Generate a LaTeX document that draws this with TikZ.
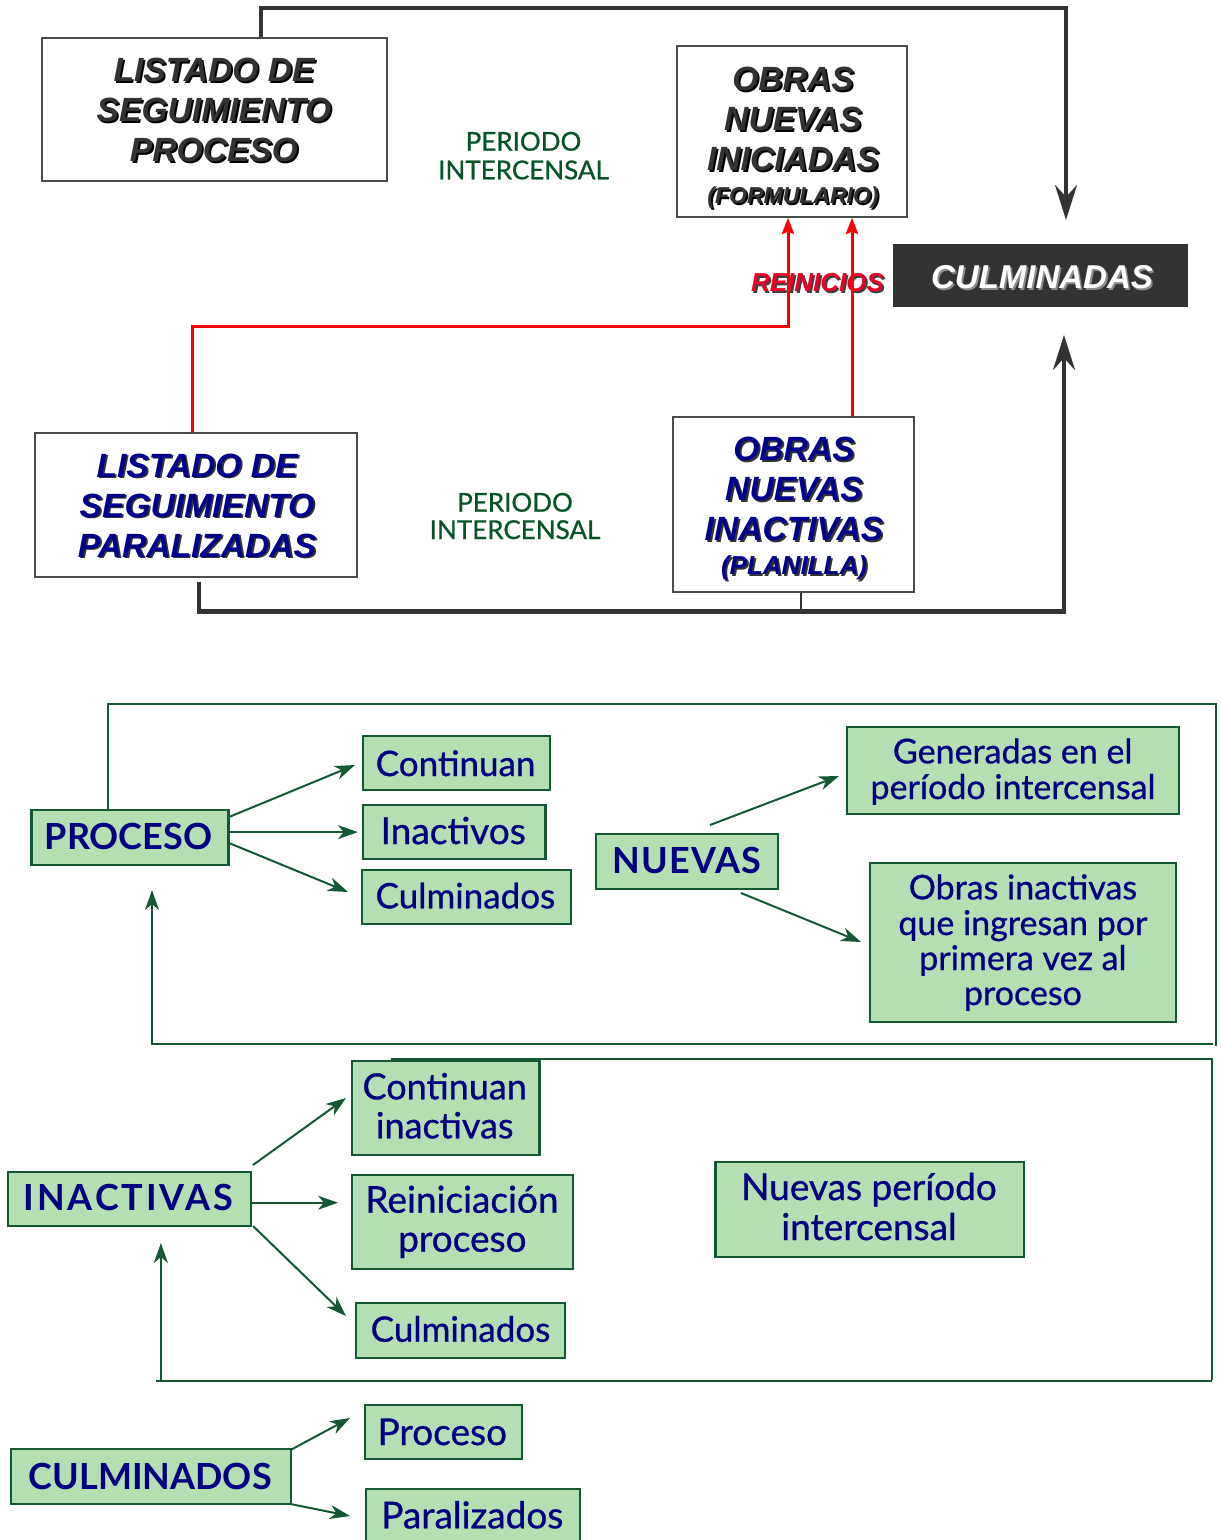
\documentclass[tikz,border=0pt]{standalone}
\usepackage{fontspec}
\setmainfont{Lato}
\newfontfamily\softfont{Lato}[FakeBold=0.8]
\newfontfamily\headfont{Liberation Sans}
\usetikzlibrary{arrows.meta}

\definecolor{ink}{RGB}{51,51,51}
\definecolor{edgegray}{RGB}{70,78,70}
\definecolor{navyink}{RGB}{0,0,128}
\definecolor{deepnavy}{RGB}{0,0,140}
\definecolor{leaf}{RGB}{179,223,179}
\definecolor{pine}{RGB}{20,88,52}
\definecolor{periodgreen}{RGB}{8,84,40}
\definecolor{linkred}{RGB}{255,0,0}
\definecolor{reinred}{RGB}{235,0,40}

\tikzset{
  sz/.style 2 args={minimum width=#1*0.5pt, minimum height=#2*0.5pt},
  whitebox/.style={draw=edgegray, line width=0.8pt, fill=white, inner sep=0pt},
  darkbox/.style={fill=ink, inner sep=0pt},
  greenbox/.style={draw=pine, line width=1.1pt, fill=leaf, inner sep=0pt},
  headtext/.style={font=\headfont\bfseries\itshape\fontsize{16.8}{20}\selectfont,
    align=center, inner sep=0pt, anchor=north},
  periodtext/.style={font=\softfont\fontsize{13}{14}\selectfont, text=periodgreen, inner sep=0pt, anchor=base},
  keytext/.style={font=\bfseries\fontsize{18}{20}\selectfont, text=navyink, inner sep=0pt, anchor=base},
  item/.style={font=\softfont\fontsize{#1}{20}\selectfont, text=navyink, inner sep=0pt, anchor=base},
  heavyline/.style={draw=ink, line width=2.2pt},
  heavyarrow/.style={heavyline, -{Stealth[length=17.5pt,width=11pt,inset=6pt]}},
  redlink/.style={draw=linkred, line width=1.5pt, -{Stealth[length=8pt,width=6pt,inset=1pt]}},
  greenline/.style={draw=pine, line width=1pt},
  greenarrow/.style={greenline, -{Stealth[length=10pt,width=7pt,inset=3pt]}},
}

% bold italic heading with a drop shadow: name, position, colour, shadow colour, lines
\newcommand\shadowed[5]{%
  \node[headtext, text=#4, xshift=0.9pt, yshift=-0.9pt] (#1-shadow) at (#2) {#5};
  \node[headtext, text=#3] (#1) at (#2) {#5};}

\begin{document}
\begin{tikzpicture}[x=0.5pt, y=-0.5pt]
\useasboundingbox (0,0) rectangle (1220,1540);
\clip (0,0) rectangle (1220,1540);
\fill[white] (0,0) rectangle (1220,1540);

% ---------- upper scheme: follow-up listings ----------
\node[whitebox, sz={345}{143}] (lspbox) at (214.5,109.5) {};
\node[whitebox, sz={230}{171}] (onibox) at (792,131.5) {};
\node[darkbox, sz={295}{63}] (culbox) at (1040.5,275.5) {};
\node[whitebox, sz={322}{144}] (lsparbox) at (196,505) {};
\node[whitebox, sz={241}{175}] (oninbox) at (793.5,504.5) {};

\shadowed{lsp}{214,58}{ink}{black}{LISTADO DE\\SEGUIMIENTO\\PROCESO}
\shadowed{oni}{793,66.7}{ink}{black}{OBRAS\\NUEVAS\\INICIADAS\\[-3.5pt]{\fontsize{11.5}{20}\selectfont (FORMULARIO)}}
\shadowed{culm}{1042,265}{white}{black!45}{\fontsize{16.5}{20}\selectfont CULMINADAS}
\shadowed{rein}{817.5,273.3}{reinred}{black!75}{\fontsize{13}{20}\selectfont REINICIOS}
\shadowed{lspar}{197,453.3}{deepnavy}{black!80}{LISTADO DE\\SEGUIMIENTO\\PARALIZADAS}
\shadowed{onin}{794,436.7}{deepnavy}{black!80}{OBRAS\\NUEVAS\\INACTIVAS\\[-3pt]{\fontsize{13}{20}\selectfont (PLANILLA)}}

\node[periodtext] (per1a) at (523.5,150.7) {PERIODO};
\node[periodtext] (per1b) at (523.5,179.3) {INTERCENSAL};
\node[periodtext] (per2a) at (515,511.7) {PERIODO};
\node[periodtext] (per2b) at (515,539) {INTERCENSAL};

% heavy flows towards CULMINADAS
\coordinate (dt1) at (261,8);
\coordinate (dt2) at (1066,8);
\coordinate (dtip) at (1066,220);
\draw[heavyarrow] (dt1 |- lspbox.north) -- (dt1) -- (dt2) -- (dtip);

\coordinate (db0) at (199,582);
\coordinate (db1) at (199,611.5);
\coordinate (db2) at (1064,611.5);
\coordinate (dbtip) at (1064,335);
\coordinate (dj) at (801,611.5);
\draw[heavyarrow] (db0) -- (db1) -- (db2) -- (dbtip);
\draw[draw=ink, line width=0.8pt] (dj |- oninbox.south) -- (dj);

% restarts back to the new works form
\coordinate (r1) at (192.5,326.7);
\coordinate (r2) at (788,326.7);
\coordinate (r3) at (852,326.7);
\draw[redlink] (r1 |- lsparbox.north) -- (r1) -- (r2) -- (r2 |- onibox.south);
\draw[redlink] (r3 |- oninbox.north) -- (r3 |- onibox.south);

% ---------- lower scheme: PROCESO / NUEVAS ----------
\node[greenbox, sz={197}{55}] (proceso) at (130,837.5) {};
\node[greenbox, sz={187}{54}] (cont1) at (456.5,763) {};
\node[greenbox, sz={182.5}{54.3}] (inact1) at (454.2,832.1) {};
\node[greenbox, sz={209.3}{54.3}] (culm1) at (466.3,897.1) {};
\node[greenbox, sz={181.7}{55}] (nuevas) at (687.1,861.5) {};
\node[greenbox, sz={331.9}{86.7}] (gener) at (1013.2,770.6) {};
\node[greenbox, sz={306.2}{158.4}] (obras) at (1022.9,942.5) {};

\node[keytext] (proceso-t) at (128.5,849.3) {PROCESO};
\node[item=17.5] (cont1-t) at (455.6,776) {Continuan};
\node[item=18.5] (inact1-t) at (453.2,844) {Inactivos};
\node[item=17.5] (culm1-t) at (465.4,908.3) {Culminados};
\node[keytext] (nuevas-t) at (687.1,873.3) {\addfontfeature{LetterSpace=3}NUEVAS};
\node[item=17] (gener-a) at (1012.7,763.3) {Generadas en el};
\node[item=17] (gener-b) at (1013,799) {período intercensal};
\node[item=17] (obras-a) at (1022.9,899.3) {Obras inactivas};
\node[item=17] (obras-b) at (1022.9,935) {que ingresan por};
\node[item=17] (obras-c) at (1022.9,970) {primera vez al};
\node[item=17] (obras-d) at (1022.9,1005) {proceso};

\coordinate (p1s) at (229,817);
\coordinate (p1e) at (355,765);
\coordinate (p3s) at (229,843);
\coordinate (p3e) at (348,892);
\draw[greenarrow] (p1s) -- (p1e);
\draw[greenarrow] (proceso.east |- inact1.west) -- ([xshift=-2pt]inact1.west);
\draw[greenarrow] (p3s) -- (p3e);

\coordinate (n1s) at (710,825);
\coordinate (n1e) at (839,776);
\coordinate (n2s) at (741,893);
\coordinate (n2e) at (861,942);
\draw[greenarrow] (n1s) -- (n1e);
\draw[greenarrow] (n2s) -- (n2e);

\coordinate (fa) at (108,704);
\coordinate (fb) at (1216,704);
\coordinate (fc) at (1216,1046);
\draw[greenline] (fa |- proceso.north) -- (fa) -- (fb) -- (fc);
\coordinate (fd) at (1213,1044);
\coordinate (fe) at (152,1044);
\coordinate (ftip) at (152,890);
\draw[greenarrow] (fd) -- (fe) -- (ftip);

% ---------- lower scheme: INACTIVAS ----------
\node[greenbox, sz={243.1}{54}] (inactivas) at (129.4,1198.7) {};
\node[greenbox, sz={187.7}{94}] (cont2) at (445.6,1107.7) {};
\node[greenbox, sz={221.3}{94}] (reini) at (462.4,1222) {};
\node[greenbox, sz={209.5}{54.4}] (culm2) at (460.4,1330.5) {};
\node[greenbox, sz={308.5}{94.4}] (nuevper) at (869.8,1209.5) {};

\node[keytext] (inactivas-t) at (128.5,1210) {\addfontfeature{LetterSpace=8}INACTIVAS};
\node[item=18] (cont2-a) at (444.7,1099.3) {Continuan};
\node[item=18] (cont2-b) at (444.7,1138.3) {inactivas};
\node[item=18.5] (reini-a) at (462,1212.7) {Reiniciación};
\node[item=18.5] (reini-b) at (462.4,1251.7) {proceso};
\node[item=17.5] (culm2-t) at (460.5,1341.7) {Culminados};
\node[item=18.5] (nuevper-a) at (869,1200) {Nuevas período};
\node[item=18.5] (nuevper-b) at (869,1240) {intercensal};

\coordinate (i1s) at (253,1165);
\coordinate (i1e) at (346,1098);
\coordinate (i2s) at (251,1202.7);
\coordinate (i2e) at (338,1202.7);
\coordinate (i3s) at (253,1226);
\coordinate (i3e) at (346,1316);
\draw[greenarrow] (i1s) -- (i1e);
\draw[greenarrow] (i2s) -- (i2e);
\draw[greenarrow] (i3s) -- (i3e);

\coordinate (ga) at (390.5,1059.3);
\coordinate (gb) at (1211.8,1059.3);
\coordinate (gc) at (1211.8,1380);
\draw[greenline] (ga) -- (gb) -- (gc);
\coordinate (gd) at (1211.8,1381);
\coordinate (ge) at (156,1381);
\coordinate (gf) at (160.9,1381);
\coordinate (gtip) at (160.9,1243);
\draw[greenline] (gd) -- (ge);
\draw[greenarrow] (gf) -- (gtip);

% ---------- lower scheme: CULMINADOS ----------
\node[greenbox, sz={280.6}{54.7}] (culminados) at (151,1476.6) {};
\node[greenbox, sz={156.9}{54.3}] (proc2) at (443.2,1432.1) {};
\node[greenbox, sz={214.6}{71}] (paral) at (472.9,1524.5) {};

\node[keytext] (culminados-t) at (150.2,1489.3) {CULMINADOS};
\node[item=18.5] (proc2-t) at (442.3,1445) {Proceso};
\node[item=18.5] (paral-t) at (472.3,1528.3) {Paralizados};

\coordinate (c1s) at (290.5,1450);
\coordinate (c1e) at (350,1418);
\coordinate (c2s) at (290.5,1504);
\coordinate (c2e) at (350,1516);
\draw[greenarrow] (c1s) -- (c1e);
\draw[greenarrow] (c2s) -- (c2e);
\end{tikzpicture}
\end{document}
